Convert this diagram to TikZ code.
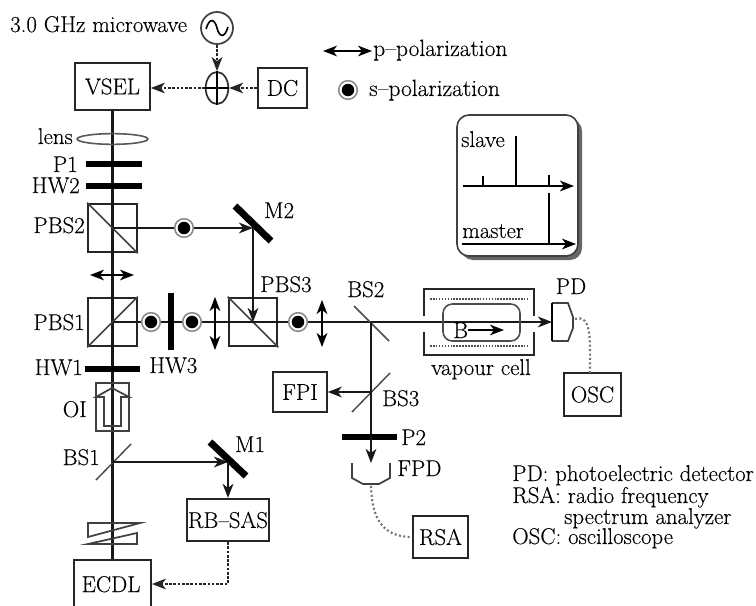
\documentclass[tikz,border=0pt]{standalone}
\usepackage{fontspec}
\setmainfont{Latin Modern Roman}[FakeBold=0.25]
\usetikzlibrary{arrows.meta,calc,shapes.geometric,shadows}
\tikzset{
  txt/.style={inner sep=0pt,font=\fontsize{17.1}{19}\selectfont},
  boxn/.style={draw=black!85,line width=1.6pt,inner sep=0pt,font=\fontsize{17.1}{19}\selectfont},
  beam/.style={line width=1.6pt,draw=black!90},
  arr/.style={-{Stealth[length=10.5pt,width=8pt,inset=3pt]}},
  darr/.style={{Stealth[length=10.5pt,width=8pt,inset=3pt]}-{Stealth[length=10.5pt,width=8pt,inset=3pt]},line width=1.2pt},
  dot/.style={circle,minimum size=14pt,inner sep=0pt,draw=black!45,line width=1.2pt,fill=white,path picture={\fill[black] (path picture bounding box.center) circle (4.7pt);}},
  bar/.style={line width=5pt,draw=black},
  mirror/.style={line width=5.2pt,draw=black},
  split/.style={line width=1.1pt,draw=black!70},
  cube/.style={draw=black!85,line width=1.4pt,minimum size=36.5pt,inner sep=0pt},
  elec/.style={line width=1.6pt,dash pattern=on 2pt off 1.2pt,draw=black!85},
  detw/.style={line width=1.6pt,dash pattern=on 1.5pt off 1.8pt,draw=black!55},
  thin line/.style={line width=1.3pt,draw=black!75}
}
\begin{document}
\begin{tikzpicture}[x=0.75pt,y=-0.75pt]
\useasboundingbox (0,0) rectangle (756,606);
% boxes
\node[boxn,minimum width=56pt,minimum height=35pt] (vsel) at (112.5,86.5) {VSEL};
\node[boxn,minimum width=37pt,minimum height=30pt] (dc) at (282.5,88) {DC};
\node[boxn,minimum width=61.5pt,minimum height=31.5pt] (rbsas) at (228,520) {RB--SAS};
\node[boxn,minimum width=57.5pt,minimum height=61pt] (ecdl) at (112.5,600.5) {};
\node[txt,anchor=base] (ecdltxt) at (111,592) {ECDL};
\node[boxn,minimum width=40pt,minimum height=30pt] (fpi) at (300,392) {FPI};
\node[boxn,minimum width=41pt,minimum height=31.5pt] (rsa) at (440.5,537) {RSA};
\node[boxn,minimum width=42.5pt,minimum height=32pt] (osc) at (592.5,394.5) {OSC};
% source and adder
\node[circle,draw=black!75,line width=1.3pt,minimum size=24pt,inner sep=0pt] (mw) at (217,28) {};
\draw[line width=1.2pt] (206,29) .. controls (210,16) and (215,20) .. (217,28) .. controls (219,36) and (224,40) .. (228,27);
\node[ellipse,draw=black!80,line width=1.3pt,minimum width=17pt,minimum height=24pt,inner sep=0pt] (add) at (217,88) {};
\draw[line width=1.2pt] (add.north) -- (add.south) (add.west) -- (add.east);
\draw[elec,arr] (mw.south) -- (add.north);
\draw[elec,arr] (dc.west) -- (add.east);
\draw[elec,arr] (add.west) -- (add.west -| vsel.east);
% left beam
\node[cube] (pbstwo) at (112.5,228) {};
\node[cube] (pbsone) at (112.5,322) {};
\node[cube] (pbsthree) at (253,322) {};
\coordinate (m2c) at (253,228);
\coordinate (m1c) at (228,462);
\coordinate (bs1c) at (112,462);
\coordinate (bs2c) at (371,322);
\coordinate (bs3c) at (371,392);
\draw[beam] (vsel.south) -- (ecdl.north);
\draw[thin line] (pbstwo.north west) -- (pbstwo.south east);
\draw[thin line] (pbsone.south west) -- (pbsone.north east);
\draw[thin line] (pbsthree.north west) -- (pbsthree.south east);
\node[ellipse,draw=black!65,line width=1.2pt,minimum width=53pt,minimum height=8pt,inner sep=0pt] (lens) at (112.5,139) {};
\draw[bar] (86,164) -- (142,164);
\draw[bar] (86,186) -- (142,186);
\draw[bar] (85,369) -- (140,369);
% beams
\draw[beam,arr] (pbstwo.center) -- (m2c);
\draw[mirror] (235,206) -- (271,241);
\draw[beam,arr] (m2c) -- (pbsthree.center);
\draw[beam] (pbsone.center) -- (bs2c);
\draw[beam,arr,line width=1.8pt] (bs2c) -- (552,322);
\node[dot] (dtwo) at (184,228) {};
\node[dot] (d1) at (151,322) {};
\node[dot] (d2) at (192,322) {};
\node[dot] (d3) at (298,322) {};
\draw[bar] (171,293) -- (171,350);
\draw[darr] (90,275) -- (134,275);
\draw[darr] (215,297) -- (215,350);
\draw[darr] (322,300) -- (322,347);
% OI
\node[draw=black!75,line width=1.3pt,minimum width=24.5pt,minimum height=36pt,inner sep=0pt] (oi) at (112.5,407) {};
\draw[line width=1.3pt,draw=black!75,line join=miter] (104,426) -- (104,397) -- (96,397) -- (112,388) -- (129,397) -- (121,397) -- (121,426) -- cycle;
% BS1 M1
\draw[split] (96,480) -- (131,444);
\draw[beam,arr] (bs1c) -- (m1c);
\draw[mirror] (210,442) -- (246,476);
\draw[beam,arr] (m1c) -- (rbsas.north -| m1c);
\draw[elec,arr] (rbsas.south -| m1c) -- (228,584) -- (ecdl.east |- 0,584);
% wedges
\draw[thin line] (88,523) -- (140,523) -- (88,537) -- cycle;
\draw[thin line] (88,544) -- (137,533) -- (137,544) -- cycle;
% BS2 BS3
\draw[split] (354,306) -- (389,341);
\draw[split] (352,412) -- (390,373);
\draw[beam,arr] (bs3c) -- (bs3c -| fpi.east);
\draw[beam] (bs2c) -- (371,437);
\draw[bar] (342,437) -- (397,437);
% FPD
\coordinate (fpdtop) at (371,463);
\draw[thin line,fill=white] (352,463) -- (352,478) -- (363,484) -- (379,484) -- (390,478) -- (390,463);
\draw[beam,arr] (371,437) -- (fpdtop);
\draw[detw] (371,486) .. controls (372,518) and (382,537) .. (rsa.west);
% vapour cell
\draw[line width=1.4pt,draw=black!85] (424,316) -- (424,289) -- (534,289) -- (534,316);
\draw[line width=1.4pt,draw=black!85] (424,332) -- (424,355) -- (534,355) -- (534,332);
\draw[densely dotted,line width=1.2pt,draw=black!70] (430,299) -- (528,299);
\draw[densely dotted,line width=1.2pt,draw=black!70] (430,346) -- (528,346);
\draw[draw=black!70,line width=1.2pt,rounded corners=7pt] (443,304) rectangle (520,341);
\node[txt,anchor=base west] (bb) at (453,338) {B};
\coordinate (bend) at (504,330);
\draw[line width=1.2pt,arr] (bb.east |- bend) -- (bend);
% PD
\coordinate (pdin) at (552,322);
\draw[thin line] (552,303) -- (568,303) -- (573,317) -- (573,328) -- (568,341) -- (552,341);
\draw[line width=1.6pt] (552,303) -- (552,341);
\draw[detw] (575,319) .. controls (592,314) and (590,340) .. (590,373);
% inset
\fill[black!60] (461,119) [rounded corners=9pt] rectangle (582,260);
\draw[draw=black!75,line width=1.2pt,rounded corners=9pt,fill=white] (457,115) rectangle (578,256);
\coordinate (a1s) at (463,186); \coordinate (a1e) at (574,186);
\coordinate (a2s) at (462,244); \coordinate (a2e) at (576,244);
\draw[line width=1.5pt,arr] (a1s) -- (a1e);
\draw[line width=1.5pt,arr] (a2s) -- (a2e);
\draw[line width=1.2pt] (483,186) -- (483,176) (516,186) -- (516,136) (549,186) -- (549,175) (549,244) -- (549,193);
\node[txt,anchor=base west] (tslave) at (461,147) {slave};
\node[txt,anchor=base west] (tmaster) at (462,238) {master};
% legend
\draw[darr] (323,51) -- (372,51);
\node[dot] (dleg) at (348,90) {};
\node[txt,anchor=base west] (tp) at (373,56) {\fontsize{17.6}{19}\selectfont p--polarization};
\node[txt,anchor=base west] (ts) at (369,96) {\fontsize{17.6}{19}\selectfont s--polarization};
% labels
\node[txt,anchor=base west] (t30) at (10,32) {3.0 GHz microwave};
\node[txt,anchor=base east] (tlens) at (73,144) {lens};
\node[txt,anchor=base east] at (78,172) {P1};
\node[txt,anchor=base east] at (80,193) {HW2};
\node[txt,anchor=base east] at (85,233) {PBS2};
\node[txt,anchor=base west] at (264,218) {M2};
\node[txt,anchor=base west] at (260,292) {PBS3};
\node[txt,anchor=base west] at (347,297) {BS2};
\node[txt,anchor=base east] at (85,330) {PBS1};
\node[txt,anchor=base east] at (83,375) {HW1};
\node[txt,anchor=base west] at (149,373) {HW3};
\node[txt,anchor=base east] at (87,417) {OI};
\node[txt,anchor=base east] at (100,465) {BS1};
\node[txt,anchor=base west] at (235,452) {M1};
\node[txt,anchor=base west] at (382,406) {BS3};
\node[txt,anchor=base west] at (401,445) {P2};
\node[txt,anchor=base west] at (397,476) {FPD};
\node[txt,anchor=base] at (481,375) {vapour cell};
\node[txt,anchor=base] at (571,294) {PD};
\node[txt,anchor=base west] at (512,481) {PD: photoelectric detector};
\node[txt,anchor=base west] at (512,503) {RSA: radio frequency};
\node[txt,anchor=base west] at (564,524) {spectrum analyzer};
\node[txt,anchor=base west] at (512,544) {OSC: oscilloscope};
\end{tikzpicture}
\end{document}
